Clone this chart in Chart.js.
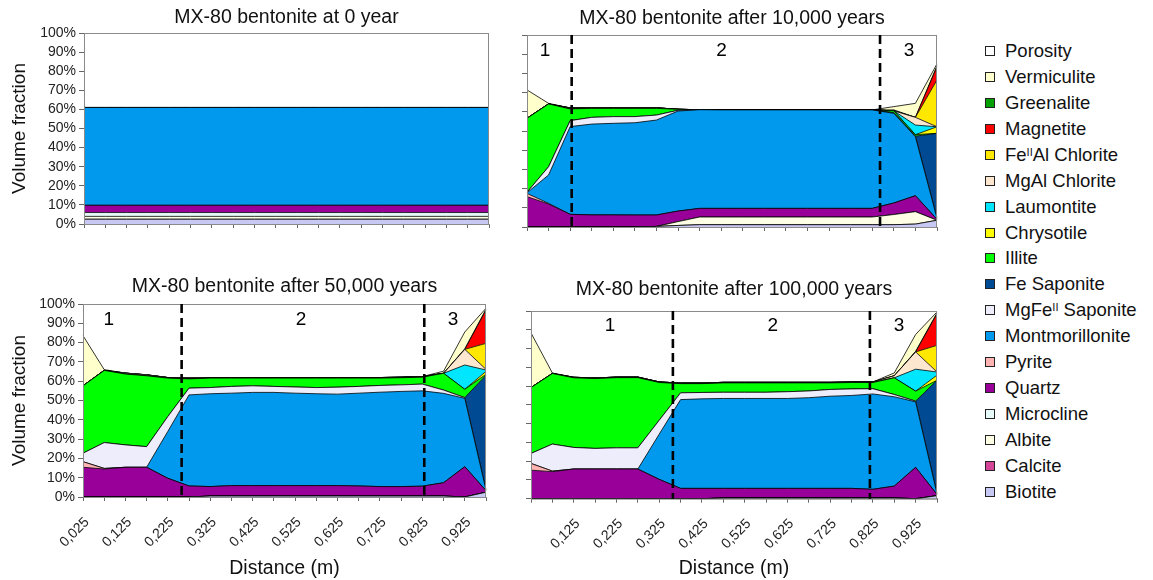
<!DOCTYPE html>
<html>
<head>
<meta charset="utf-8">
<script src="https://cdn.jsdelivr.net/npm/chart.js@4.4.0/dist/chart.umd.min.js"></script>
<style>
  html, body { margin: 0; padding: 0; background: #fff; }
  body { width: 1153px; height: 580px; position: relative; overflow: hidden; font-family: 'Liberation Sans', Arial, sans-serif; }
  canvas { position: absolute; }
  #legend { position: absolute; left: 985px; top: 38px; }
  .item { display: flex; align-items: center; height: 25.94px; font-size: 18.5px; color: #111; white-space: nowrap; }
  .box { width: 8px; height: 8px; border: 1px solid #222; margin-right: 10px; flex: none; }
  sup { font-size: 60%; line-height: 0; position: relative; top: -0.45em; vertical-align: baseline; }
</style>
</head>
<body>
<canvas id="c0" width="500" height="240" style="left:0;top:0"></canvas>
<canvas id="c1" width="450" height="243" style="left:500px;top:0"></canvas>
<canvas id="c2" width="500" height="310" style="left:0;top:270px"></canvas>
<canvas id="c3" width="450" height="310" style="left:500px;top:270px"></canvas>
<div id="legend"></div>
<script>
// distance along the bentonite (m), one point every 5 cm
var distance = ['0,025','0,075','0,125','0,175','0,225','0,275','0,325','0,375','0,425','0,475',
                '0,525','0,575','0,625','0,675','0,725','0,775','0,825','0,875','0,925','0,975'];

// stack order, bottom to top
var minerals = ['Biotite','Calcite','Albite','Microcline','Quartz','Pyrite','Montmorillonite','MgFeII Saponite',
                'Fe Saponite','Illite','Chrysotile','Laumontite','MgAl Chlorite','FeIIAl Chlorite','Magnetite',
                'Greenalite','Vermiculite','Porosity'];
var colours = ['#c8c8f4','#d6449a','#ffffe6','#e6fafa','#990099','#ffb3b3','#0099ee','#ededfb',
               '#004a94','#00ff00','#ffff00','#00e6ff','#fde8cf','#ffe800','#ff0000',
               '#00a000','#ffffcc','#ffffff'];

// volume fraction (%) per mineral, only the ones present
var yr0 = {
  'Biotite':         [2.5,2.5,2.5,2.5,2.5,2.5,2.5,2.5,2.5,2.5,2.5,2.5,2.5,2.5,2.5,2.5,2.5,2.5,2.5,2.5],
  'Albite':          [1.5,1.5,1.5,1.5,1.5,1.5,1.5,1.5,1.5,1.5,1.5,1.5,1.5,1.5,1.5,1.5,1.5,1.5,1.5,1.5],
  'Microcline':      [2,2,2,2,2,2,2,2,2,2,2,2,2,2,2,2,2,2,2,2],
  'Quartz':          [3.8,3.8,3.8,3.8,3.8,3.8,3.8,3.8,3.8,3.8,3.8,3.8,3.8,3.8,3.8,3.8,3.8,3.8,3.8,3.8],
  'Montmorillonite': [51.2,51.2,51.2,51.2,51.2,51.2,51.2,51.2,51.2,51.2,51.2,51.2,51.2,51.2,51.2,51.2,51.2,51.2,51.2,51.2],
  'Porosity':        [39,39,39,39,39,39,39,39,39,39,39,39,39,39,39,39,39,39,39,39]
};

var yr10k = {
  'Biotite':         [0,0,0,0,0,0,0.3,0.8,1.2,1.2,1.2,1.2,1.2,1.2,1.2,1.2,1.2,1.2,1.5,3.5],
  'Albite':          [0,0,0,0,0,0,0,2,4,4,4,4,4,4,4,4,4,5.3,6.5,0],
  'Quartz':          [15.8,12,6.6,6.3,6.3,6.25,5.95,5.5,4.5,4.5,4.5,4.5,4.5,4.5,4.5,4.5,4.5,6,8.3,0.5],
  'Pyrite':          [1.7,0.3,0,0,0,0,0,0,0,0,0,0,0,0,0,0,0,0,0,0],
  'Montmorillonite': [0.3,14.8,45.7,47.3,47.7,48.05,49.45,52.1,51.4,51.3,51.3,51.3,51.3,51.3,51.3,51.3,51.3,46.7,30.7,0.5],
  'MgFeII Saponite': [0.3,4.3,3.1,3.5,3.5,3.2,2.6,0.4,0,0,0,0,0,0,0,0,0,0.3,0.3,0.5],
  'Fe Saponite':     [0,0,0,0,0,0,0,0,0,0,0,0,0,0,0,0,0,0,0,43.8],
  'Illite':          [38.5,32.7,6.1,4.7,4.3,4.3,3.5,0.5,0,0,0,0,0,0,0,0,0,1,0.8,0],
  'Chrysotile':      [0,0,0,0,0,0,0,0,0,0,0,0,0,0,0,0,0,0,0,3.4],
  'Laumontite':      [0,0,0,0,0,0,0,0,0,0,0,0,0,0,0,0,0,0,5,0],
  'MgAl Chlorite':   [0,0,0.5,0.3,0.3,0.3,0.3,0,0,0,0,0,0,0,0,0,0,0,4,0],
  'FeIIAl Chlorite': [0,0,0,0,0,0,0,0,0,0,0,0,0,0,0,0,0,0,0,24.4],
  'Magnetite':       [0,0,0,0,0,0,0,0,0,0,0,0,0,0,0,0,0,0,0,6.9],
  'Greenalite':      [0,0,0,0,0,0,0,0,0,0,0,0,0,0,0,0,0,0.5,0,0.5],
  'Vermiculite':     [14.8,0.3,0,0,0,0,0,0,0,0,0,0,0,0,0,0,0,1.7,7.3,1],
  'Porosity':        [28.6,35.6,38,37.9,37.9,37.9,37.9,38.7,38.9,39,39,39,39,39,39,39,39,37.3,35.6,15]
};

var yr50k = {
  'Biotite':         [0,0,0,0,0,0,0.5,0.5,0.5,0.5,0.5,0.5,0.5,0.5,0.5,0.5,0.5,0.5,0,2.5],
  'Quartz':          [15.4,14.5,15.4,15.4,9.7,5.7,4.9,5.4,5.4,5.4,5.4,5.4,5.4,5.2,4.9,4.9,5.1,6.9,15.7,0.8],
  'Pyrite':          [2.9,0.3,0,0,0,0,0,0,0,0,0,0,0,0,0,0,0,0,0,0],
  'Montmorillonite': [0,0,0,0,24.3,47.2,48.1,47.9,48.3,48.3,47.9,47.6,47.4,48.1,48.9,49.3,49.4,46.3,35.4,0.3],
  'MgFeII Saponite': [4.4,13.4,11.6,10.7,7.7,3.5,3.2,3.5,3.4,3.1,3.2,3.2,3.6,3.5,3.5,3.4,3.5,1.7,0.4,0.3],
  'Fe Saponite':     [0,0,0,0,0,0,0,0,0,0,0,0,0,0,0,0,0,0,0,59.2],
  'Illite':          [34.9,37.4,36.7,36.7,19.9,4.8,4.9,4.3,4,4.3,4.6,4.9,4.7,4.3,3.8,3.7,3.6,8.7,4.3,0.5],
  'Chrysotile':      [0,0,0,0,0,0,0,0,0,0,0,0,0,0,0,0,0,0,0,1.5],
  'Laumontite':      [0,0,0,0,0,0,0,0,0,0,0,0,0,0,0,0,0,0,12.6,0.7],
  'MgAl Chlorite':   [0,0,0.5,0.5,0.3,0.4,0.3,0.3,0.3,0.3,0.3,0.3,0.3,0.3,0.3,0.3,0.3,0,8.1,0.3],
  'FeIIAl Chlorite': [0,0,0,0,0,0,0,0,0,0,0,0,0,0,0,0,0,0,0,13.5],
  'Magnetite':       [0,0,0,0,0,0,0,0,0,0,0,0,0,0,0,0,0,0,0,17.3],
  'Greenalite':      [0,0,0,0,0,0,0,0,0,0,0,0,0,0,0,0,0,0,0.3,0.4],
  'Vermiculite':     [26,0.4,0,0,0,0,0,0,0,0,0,0,0,0,0,0,0,1.1,8.7,0.5],
  'Porosity':        [16.4,34,35.8,36.7,38.1,38.4,38.1,38.1,38.1,38.1,38.1,38.1,38.1,38.1,38.1,37.9,37.6,34.8,14.5,2.2]
};

var yr100k = {
  'Biotite':         [0,0,0,0,0,0,0,0,0,0.4,0.4,0.4,0.4,0.4,0.4,0.4,0.4,0.4,0,1.6],
  'Quartz':          [15.2,14.4,15.8,15.8,15.8,15.8,10.3,5.5,5.5,5.1,5.1,5.1,5.1,5.1,5.1,5.1,4.6,6.3,16.7,0.7],
  'Pyrite':          [3.6,0.3,0,0,0,0,0,0,0,0,0,0,0,0,0,0,0,0,0,0],
  'Montmorillonite': [0,0,0,0,0,0,24.1,47.3,47.7,47.9,47.9,47.9,47.9,48.3,49.1,49.5,50.8,47.6,34.9,0.3],
  'MgFeII Saponite': [5.3,14.4,11.5,11,11.3,11.3,7.4,3.6,3.4,3.3,3.3,3.3,3.6,3.6,3.6,3.5,2.8,1.2,0.4,0.3],
  'Fe Saponite':     [0,0,0,0,0,0,0,0,0,0,0,0,0,0,0,0,0,0,0,60.2],
  'Illite':          [35.1,37.6,37.1,37.2,37.4,37.4,20.1,4.9,4.7,5,5,5,4.7,4.3,3.5,3.4,3.3,8.9,5.3,0],
  'Chrysotile':      [0,0,0,0,0,0,0,0,0,0,0,0,0,0,0,0,0,0,0,2.7],
  'Laumontite':      [0,0,0,0,0,0,0,0,0,0,0,0,0,0,0,0,0,0,11.7,1.7],
  'MgAl Chlorite':   [0,0,0.3,0.3,0.3,0.3,0.3,0.3,0.3,0.3,0.3,0.3,0.3,0.3,0.3,0.3,0.3,1.1,9.2,0],
  'FeIIAl Chlorite': [0,0,0,0,0,0,0,0,0,0,0,0,0,0,0,0,0,0,0,14.2],
  'Magnetite':       [0,0,0,0,0,0,0,0,0,0,0,0,0,0,0,0,0,0,0,16.9],
  'Greenalite':      [0,0,0,0,0,0,0,0,0,0,0,0,0,0,0,0,0,0,0.3,0.4],
  'Vermiculite':     [29.1,0.3,0,0,0,0,0,0,0,0,0,0,0,0,0,0,0,1.5,9,0.5],
  'Porosity':        [11.7,33,35.3,35.7,35.2,35.2,37.8,38.4,38.4,38,38,38,38,38,38,37.8,37.8,33,12.5,0.5]
};

// zone boundaries (in point index) and zone numbers
var zones10k = [2.07, 16.36];
var zones50k = [4.65, 16.09];
var zones100k = [6.64, 15.86];

var panels = [
  {id:'c0', title:'MX-80 bentonite at 0 year', data:yr0, yW:84, xH:16, padR:11, tPad:[5.8,3.8],
   yLabels:true, xLabels:false, first:0, dashes:[], marks:[]},
  {id:'c1', title:'MX-80 bentonite after 10,000 years', data:yr10k, yW:27, xH:16, padR:13, tPad:[6.8,4.8],
   yLabels:false, xLabels:false, first:0, dashes:zones10k, marks:[[0.83,'1'],[9.02,'2'],[17.7,'3']]},
  {id:'c2', title:'MX-80 bentonite after 50,000 years', data:yr50k, yW:83, xH:83, padR:14, tPad:[4.8,5.8],
   yLabels:true, xLabels:true, first:0, dashes:zones50k, marks:[[1.21,'1'],[10.28,'2'],[17.44,'3']]},
  {id:'c3', title:'MX-80 bentonite after 100,000 years', data:yr100k, yW:31, xH:81.3, padR:13, tPad:[8.3,9.3],
   yLabels:false, xLabels:true, first:2, dashes:zones100k, marks:[[3.7,'1'],[11.31,'2'],[17.22,'3']]}
];

var FONT = "'Liberation Sans', Arial, sans-serif";

// grey frame, dashed zone lines and zone numbers
var zonePlugin = {
  id: 'zones',
  afterDatasetsDraw: function(chart) {
    var p = chart.options.plugins.zones;
    var a = chart.chartArea, ctx = chart.ctx;
    var xs = chart.scales.x, ys = chart.scales.y;
    ctx.save();
    ctx.strokeStyle = '#8a8a8a';
    ctx.lineWidth = 1;
    ctx.strokeRect(a.left + 0.5, a.top + 0.5, a.right - a.left - 1, a.bottom - a.top);
    ctx.strokeStyle = '#000';
    ctx.lineWidth = 2.6;
    ctx.setLineDash([9, 5]);
    p.dashes.forEach(function(d) {
      var x = xs.getPixelForValue(d);
      ctx.beginPath();
      ctx.moveTo(x, a.top);
      ctx.lineTo(x, a.bottom);
      ctx.stroke();
    });
    ctx.setLineDash([]);
    ctx.fillStyle = '#000';
    ctx.font = '19px ' + FONT;
    ctx.textAlign = 'center';
    ctx.textBaseline = 'middle';
    p.marks.forEach(function(m) {
      ctx.fillText(m[1], xs.getPixelForValue(m[0]), ys.getPixelForValue(92));
    });
    ctx.restore();
  }
};

panels.forEach(function(p) {
  var datasets = minerals.map(function(m, k) {
    return {
      label: m,
      data: p.data[m] || distance.map(function() { return 0; }),
      backgroundColor: colours[k],
      borderColor: '#000',
      borderWidth: m === 'Porosity' ? 0 : 0.8,
      pointRadius: 0,
      tension: 0,
      fill: k === 0 ? 'origin' : '-1'
    };
  });

  new Chart(document.getElementById(p.id), {
    type: 'line',
    data: { labels: distance, datasets: datasets },
    plugins: [zonePlugin],
    options: {
      responsive: false,
      animation: false,
      events: [],
      layout: { padding: { left: 0, right: p.padR, top: 0, bottom: 0 } },
      plugins: {
        legend: { display: false },
        tooltip: { enabled: false },
        title: {
          display: true,
          text: p.title,
          fullSize: false,
          color: '#111',
          font: { family: FONT, size: 19.5, weight: 'normal' },
          padding: { top: p.tPad[0], bottom: p.tPad[1] }
        },
        zones: { dashes: p.dashes, marks: p.marks }
      },
      scales: {
        x: {
          type: 'category',
          grid: { display: true, drawOnChartArea: false, drawTicks: true, tickLength: 4, color: '#666' },
          border: { display: true, color: '#8a8a8a' },
          ticks: {
            autoSkip: false,
            minRotation: 45,
            maxRotation: 45,
            padding: 13,
            labelOffset: 4,
            color: '#222',
            font: { family: FONT, size: 14 },
            callback: function(v, i) {
              return (p.xLabels && i % 2 === 0 && i >= p.first) ? this.getLabelForValue(v) : '';
            }
          },
          title: {
            display: p.xLabels,
            text: 'Distance (m)',
            color: '#111',
            font: { family: FONT, size: 19.5 },
            padding: { top: 0, bottom: 0 }
          },
          afterFit: function(s) { s.height = p.xH; s.paddingLeft = 0; s.paddingRight = 0; }
        },
        y: {
          stacked: true,
          min: 0,
          max: 100,
          grid: { display: true, drawOnChartArea: false, drawTicks: true, tickLength: 5, color: '#666' },
          border: { display: true, color: '#8a8a8a' },
          ticks: {
            stepSize: 10,
            autoSkip: false,
            padding: 3,
            color: '#222',
            font: { family: FONT, size: 14 },
            callback: function(v) { return p.yLabels ? v + '%' : ''; }
          },
          title: {
            display: p.yLabels,
            text: 'Volume fraction',
            color: '#111',
            font: { family: FONT, size: 19 },
            padding: { top: 8, bottom: 0 }
          },
          afterFit: function(s) { s.width = p.yW; }
        }
      }
    }
  });
});

// legend, top of the stack first
var legend = document.getElementById('legend');
minerals.slice().reverse().forEach(function(m) {
  var k = minerals.indexOf(m);
  var row = document.createElement('div');
  row.className = 'item';
  row.innerHTML = '<span class="box" style="background:' + colours[k] + '"></span><span>' +
                  m.replace('FeII', 'Fe<sup>II</sup>') + '</span>';
  legend.appendChild(row);
});
</script>
</body>
</html>
